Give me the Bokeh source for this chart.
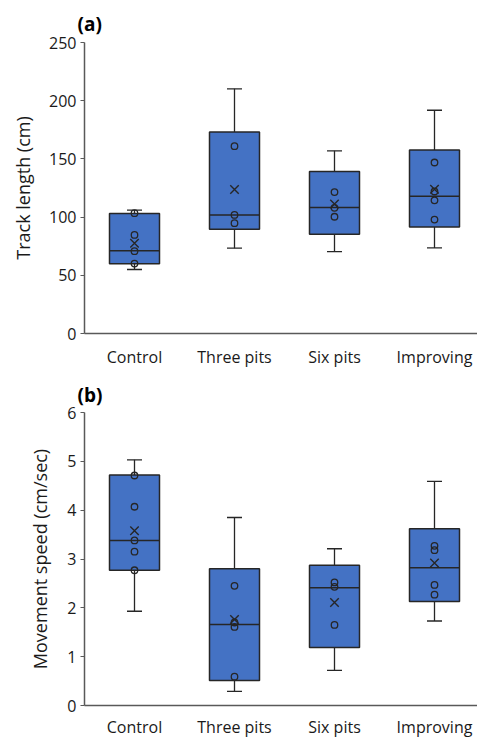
from bokeh.plotting import figure
from bokeh.layouts import column
from bokeh.models import Range1d, FixedTicker
from bokeh.embed import file_html
from bokeh.resources import INLINE

categories = ["Control", "Three pits", "Six pits", "Improving"]
cat_pos = [0.5, 1.5, 2.5, 3.5]

# Panel (a): Track length (cm)
a_whisk_low = [55, 73.3, 70.4, 73.5]
a_q1 = [60, 89.6, 85.3, 91.6]
a_median = [71, 101.9, 108.2, 118]
a_q3 = [103, 173.2, 139.2, 157.7]
a_whisk_high = [106, 210.2, 156.9, 191.8]
a_mean = [77.6, 123.7, 111.3, 124]
a_points = [
    [103.4, 84.7, 70.7, 60.1],
    [160.9, 101.9, 94.8],
    [121.5, 108.0, 100.3],
    [146.9, 122.0, 114.4, 97.9],
]

# Panel (b): Movement speed (cm/sec)
b_whisk_low = [1.93, 0.29, 0.72, 1.73]
b_q1 = [2.77, 0.51, 1.19, 2.13]
b_median = [3.38, 1.66, 2.41, 2.82]
b_q3 = [4.72, 2.80, 2.87, 3.62]
b_whisk_high = [5.03, 3.85, 3.21, 4.59]
b_mean = [3.58, 1.76, 2.11, 2.92]
b_points = [
    [4.71, 4.07, 3.38, 3.15, 2.77],
    [2.45, 1.70, 1.61, 0.59],
    [2.52, 2.43, 1.65],
    [3.27, 3.18, 2.47, 2.27],
]

FONT = "Open Sans"
BOX_FILL = "#4472C4"
EDGE = "#262626"
AXIS = "#595959"


def make_panel(lo, q1, med, q3, hi, mean, pts, ymax, ystep, ylabel, tag,
               frame_h, border_top, border_bottom, title_standoff, label_standoff,
               tag_standoff):
    p = figure(frame_width=393, frame_height=frame_h, output_backend="svg",
               toolbar_location=None,
               x_range=Range1d(0, 3.93), y_range=Range1d(0, ymax),
               min_border_left=84, min_border_right=0,
               min_border_top=border_top, min_border_bottom=border_bottom)
    p.outline_line_color = None
    p.xgrid.visible = False
    p.ygrid.visible = False
    p.background_fill_color = "white"
    p.border_fill_color = "white"

    p.title.text = tag
    p.title.align = "left"
    p.title.offset = -7
    p.title.standoff = tag_standoff
    p.title.text_font = FONT
    p.title.text_font_size = "19px"
    p.title.text_font_style = "bold"
    p.title.text_color = "#000000"

    cap = 0.075
    # whiskers
    p.segment(x0=cat_pos, y0=q3, x1=cat_pos, y1=hi, line_color=EDGE, line_width=1.3)
    p.segment(x0=cat_pos, y0=lo, x1=cat_pos, y1=q1, line_color=EDGE, line_width=1.3)
    p.segment(x0=[c - cap for c in cat_pos], y0=hi, x1=[c + cap for c in cat_pos], y1=hi,
              line_color=EDGE, line_width=1.3)
    p.segment(x0=[c - cap for c in cat_pos], y0=lo, x1=[c + cap for c in cat_pos], y1=lo,
              line_color=EDGE, line_width=1.3)
    # boxes
    p.vbar(x=cat_pos, width=0.5, bottom=q1, top=q3, fill_color=BOX_FILL,
           line_color=EDGE, line_width=1.5)
    # medians
    p.segment(x0=[c - 0.25 for c in cat_pos], y0=med, x1=[c + 0.25 for c in cat_pos], y1=med,
              line_color=EDGE, line_width=1.5)
    # points
    px, py = [], []
    for c, vals in zip(cat_pos, pts):
        for v in vals:
            px.append(c)
            py.append(v)
    p.scatter(px, py, marker="circle", size=6.5, fill_color=None,
              line_color=EDGE, line_width=1.3)
    # means
    p.scatter(cat_pos, mean, marker="x", size=12, line_color=EDGE, line_width=1.4)

    # axes
    p.xaxis.ticker = FixedTicker(ticks=cat_pos)
    p.xaxis.major_label_overrides = {c: n for c, n in zip(cat_pos, categories)}
    p.xaxis.major_tick_line_color = None
    p.xaxis.major_tick_out = 0
    p.xaxis.major_tick_in = 0
    p.xaxis.minor_tick_line_color = None
    p.xaxis.axis_line_color = AXIS
    p.xaxis.axis_line_width = 1.5
    p.xaxis.major_label_standoff = label_standoff
    p.xaxis.major_label_text_font = FONT
    p.xaxis.major_label_text_font_size = "16px"
    p.xaxis.major_label_text_color = "#1a1a1a"

    p.yaxis.ticker = FixedTicker(ticks=[i * ystep for i in range(int(round(ymax / ystep)) + 1)])
    p.yaxis.minor_tick_line_color = None
    p.yaxis.major_tick_in = 0
    p.yaxis.major_tick_out = 4
    p.yaxis.major_tick_line_color = AXIS
    p.yaxis.major_tick_line_width = 1.2
    p.yaxis.axis_line_color = AXIS
    p.yaxis.axis_line_width = 1.5
    p.yaxis.major_label_standoff = 4
    p.yaxis.major_label_text_font = FONT
    p.yaxis.major_label_text_font_size = "16px"
    p.yaxis.major_label_text_color = "#1a1a1a"
    p.yaxis.axis_label = ylabel
    p.yaxis.axis_label_text_font = FONT
    p.yaxis.axis_label_text_font_size = "18px"
    p.yaxis.axis_label_text_font_style = "normal"
    p.yaxis.axis_label_text_color = "#1a1a1a"
    p.yaxis.axis_label_standoff = title_standoff
    return p


pa = make_panel(a_whisk_low, a_q1, a_median, a_q3, a_whisk_high, a_mean, a_points,
                250, 50, "Track length (cm)", "(a)", 291, 42, 36, 11, 12, 11)
pb = make_panel(b_whisk_low, b_q1, b_median, b_q3, b_whisk_high, b_mean, b_points,
                6, 1, "Movement speed (cm/sec)", "(b)", 293, 42, 30, 12, 10, 9)

layout = column(pa, pb, spacing=0)
open("out.html", "w").write(file_html(layout, INLINE))
